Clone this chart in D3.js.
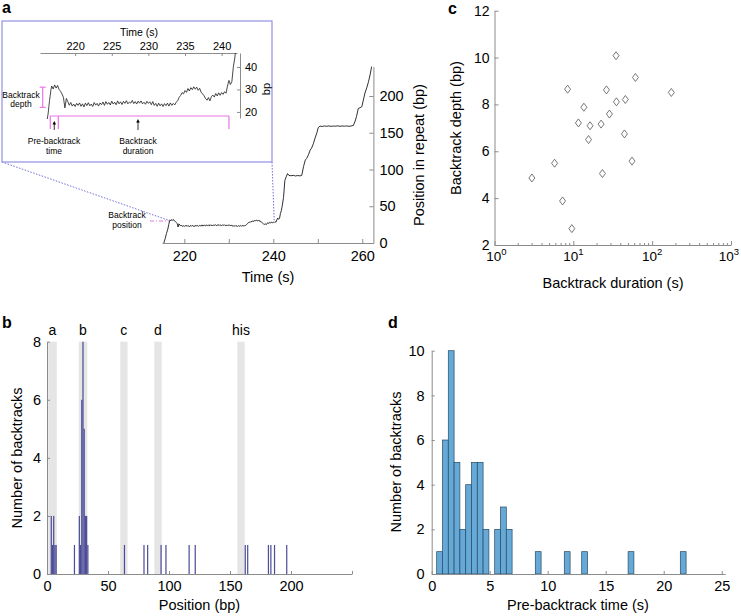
<!DOCTYPE html>
<html><head><meta charset="utf-8">
<script src="https://cdn.jsdelivr.net/npm/d3@7"></script>
<style>body{margin:0;background:#fff}</style>
</head><body>
<svg id="c" width="741" height="616"></svg>
<script>
// ---------------- DATA ----------------
// panel a: trace [time (s), position (bp)]
const trace = [
[215.4,0],[215.7,6],[216.0,13],[216.3,19],[216.5,25],[216.7,30],[216.8,31.5],[217.0,30.2],[217.2,32.0],[217.4,30.6],
[217.6,31.8],[217.8,30.0],[218.0,29.2],[218.2,28.0],[218.4,26.5],[218.6,21.8],[218.8,26.0],[219.0,24.5],[219.2,23.0],[219.4,24.2],
[219.6,22.6],[219.8,23.5],[220.0,22.4],[220.2,23.8],[220.4,22.9],[220.6,24.0],[220.8,22.5],[221.0,23.6],[221.2,22.2],[221.4,23.9],
[221.6,22.8],[221.8,24.1],[222.0,22.7],[222.2,23.5],[222.4,22.4],[222.6,24.2],[222.8,23.0],[223.0,23.8],[223.2,22.6],[223.4,24.0],
[223.6,23.2],[223.8,24.4],[224.0,22.9],[224.2,24.6],[224.4,23.4],[224.6,24.2],[224.8,23.1],[225.0,24.8],[225.2,23.5],[225.4,24.3],
[225.6,23.2],[225.8,24.9],[226.0,23.6],[226.2,24.5],[226.4,23.3],[226.6,24.7],[226.8,23.8],[227.0,25.0],[227.2,23.6],[227.4,24.4],
[227.6,23.9],[227.8,25.1],[228.0,23.7],[228.2,24.6],[228.4,23.5],[228.6,24.8],[228.8,23.9],[229.0,24.9],[229.2,23.6],[229.4,24.3],
[229.6,23.4],[229.8,24.7],[230.0,23.8],[230.2,24.5],[230.4,23.2],[230.6,24.6],[230.8,22.9],[231.0,23.8],[231.2,22.5],[231.4,23.9],
[231.6,22.7],[231.8,23.6],[232.0,22.4],[232.2,23.7],[232.4,22.8],[232.6,23.9],[232.8,22.6],[233.0,24.0],[233.2,22.9],[233.4,23.8],
[233.6,23.1],[233.8,24.3],[234.0,25.0],[234.2,26.5],[234.4,27.3],[234.6,28.6],[234.8,28.0],[235.0,29.5],[235.2,28.7],[235.4,30.4],
[235.6,29.3],[235.8,30.8],[236.0,29.9],[236.2,31.2],[236.4,30.1],[236.6,31.0],[236.8,29.6],[237.0,30.5],[237.2,28.8],[237.4,28.0],
[237.6,27.2],[237.8,26.0],[238.0,25.2],[238.2,26.4],[238.4,24.9],[238.6,26.8],[238.8,27.5],[239.0,26.6],[239.2,28.2],[239.4,27.1],
[239.6,28.5],[239.8,27.4],[240.0,28.6],[240.2,27.8],[240.4,29.0],[240.6,28.3],[240.8,31.5],[241.0,34.0],[241.2,32.2],[241.4,33.5],
[241.6,40.0],[241.8,44.0],[242.0,50.0],[242.3,62.0],[242.6,85.0],[242.9,90.0],[243.2,94.5],[243.5,92.0],[244.0,91.5],[244.5,92.0],
[245.0,91.2],[245.5,91.8],[246.0,91.3],[246.4,92.0],[246.8,104],[247.2,113],[247.5,115],[247.9,120],[248.3,126.5],[248.6,129],
[249.0,135],[249.4,143],[249.8,150],[250.1,157],[250.5,159],[251.0,158.6],[251.5,159.2],[252.0,158.8],[252.5,159.3],[253.0,158.7],
[253.5,159.1],[254.0,158.9],[254.5,159.4],[255.0,158.8],[255.5,159.2],[256.0,158.9],[256.5,159.3],[257.0,158.8],[257.5,159.2],[258.0,160],
[258.4,166],[258.7,172],[259.1,183],[259.5,184],[259.9,185.5],[260.3,196],[260.6,204],[261.0,211],[261.4,219.5],[261.8,230],[262.1,240]
];
const mainTimeTicks = [220, 230, 240, 250, 260];
const mainTimeLabels = [220, 240, 260];
const mainBpTicks = [0, 50, 100, 150, 200];
const insetTimeTicks = [220, 225, 230, 235, 240];
const insetBpTicks = [20, 30, 40];

// panel b
const bandStarts = [1, 26, 60, 88, 156];
const bandEnds = [8, 33, 66, 94, 162];
const bandLabels = ["a", "b", "c", "d", "his"];
const posBins = [3,4,5,6,7,22,26,27,28,29,30,31,32,33,63,79,82,93,97,116,121,162,164,181,183,186,196];
const posCounts = [2,1,2,1,1,1,2,1,6,8,5,2,2,1,1,1,1,1,1,1,1,1,1,1,1,1,1];
const posTicks = [0, 50, 100, 150, 200, 250];
const countTicksB = [0, 2, 4, 6, 8];

// panel c
const durations = [8.45,34.8,61.3,175,26.3,13.6,35.2,45.7,11.6,16.3,22.5,28.7,15.6,44.5,2.98,5.78,55.5,23.4,7.3,9.57];
const depths    = [8.65,10.08,9.15,8.51,8.62,7.88,8.11,8.21,7.21,7.09,7.16,7.59,6.50,6.74,4.86,5.49,5.58,5.05,3.88,2.70];
const depthTicks = [2, 4, 6, 8, 10, 12];
const durationTicks = [1, 10, 100, 1000];
const durationExps = ["0", "1", "2", "3"];

// panel d
const preStarts = [0.43,0.93,1.43,1.93,2.43,2.93,3.43,3.93,4.43,4.93,5.43,5.93,6.43,8.93,11.43,12.93,16.93,21.43];
const preCounts = [1,6,10,5,2,4,5,5,2,0,2,3,2,1,1,1,1,1];
const preBinWidth = 0.5;
const preTicks = [0, 5, 10, 15, 20, 25];
const countTicksD = [0, 2, 4, 6, 8, 10];

// ---------------- DRAW ----------------
const FONT = '"Liberation Sans", Arial, Helvetica, sans-serif';
const AX = '#8c8c8c';
const MAG = '#ea74e6';
const svg = d3.select('#c').attr('font-family', FONT);

function styleAxis(g, fs) {
  g.attr('font-family', FONT).attr('font-size', fs);
  g.selectAll('.domain').attr('stroke', AX);
  g.selectAll('.tick line').attr('stroke', AX);
  g.selectAll('text').attr('fill', '#000');
}
function label(txt, x, y, opts = {}) {
  const t = svg.append('text').attr('x', x).attr('y', y).text(txt)
    .attr('font-size', opts.size || 14).attr('text-anchor', opts.anchor || 'middle')
    .attr('fill', '#000');
  if (opts.bold) t.attr('font-weight', 'bold');
  if (opts.rotate != null) t.attr('transform', `rotate(${opts.rotate},${x},${y})`).attr('dominant-baseline', 'central');
  return t;
}

// ===== Panel a (main) =====
const xa = d3.scaleLinear().domain([215, 262.5]).range([162.05, 373.4]);
const ya = d3.scaleLinear().domain([0, 240]).range([243, 66.6]);

svg.append('g').attr('transform', 'translate(0,243)')
  .call(d3.axisBottom(xa).tickValues(mainTimeTicks).tickFormat(d => mainTimeLabels.includes(d) ? d : '')
    .tickSizeInner(-4).tickSizeOuter(0).tickPadding(8))
  .call(g => styleAxis(g, 14.5));
svg.append('g').attr('transform', 'translate(373.4,0)')
  .call(d3.axisRight(ya).tickValues(mainBpTicks).tickSizeInner(-4).tickSizeOuter(0).tickPadding(6))
  .call(g => styleAxis(g, 14.5));
label('Time (s)', 268, 282, {size: 14.5});
label('Position in repeat (bp)', 419, 155, {size: 14.5, rotate: -90});

const lineA = d3.line().x(d => xa(d[0])).y(d => ya(d[1]));
svg.append('path').datum(trace).attr('d', lineA).attr('fill', 'none')
  .attr('stroke', '#1a1a1a').attr('stroke-width', 0.9);

// backtrack position marker
svg.append('line').attr('x1', 150).attr('x2', xa(216.6)).attr('y1', ya(30)).attr('y2', ya(30))
  .attr('stroke', MAG).attr('stroke-width', 1.1).attr('stroke-dasharray', '4,2,1,2');
label('Backtrack', 127, 218, {size: 8.5});
label('position', 127, 228, {size: 8.5});

// zoom connectors
svg.append('line').attr('x1', 2).attr('y1', 162).attr('x2', xa(216.4)).attr('y2', ya(31))
  .attr('stroke', '#6f6fdc').attr('stroke-width', 1).attr('stroke-dasharray', '1.5,1.5');
svg.append('line').attr('x1', 272).attr('y1', 162).attr('x2', xa(240.2)).attr('y2', ya(31))
  .attr('stroke', '#6f6fdc').attr('stroke-width', 1).attr('stroke-dasharray', '1.5,1.5');

// ===== Panel a inset =====
svg.append('rect').attr('x', 2).attr('y', 21).attr('width', 270).attr('height', 141)
  .attr('fill', '#fff').attr('stroke', '#9090e2').attr('stroke-width', 1.2);
const xi = d3.scaleLinear().domain([215.2, 242.1]).range([40, 237]);
const yi = d3.scaleLinear().domain([17.3, 46.2]).range([118, 53]);
svg.append('g').attr('transform', 'translate(0,53)')
  .call(d3.axisTop(xi).tickValues(insetTimeTicks).tickSizeInner(-3).tickSizeOuter(0).tickPadding(3))
  .call(g => styleAxis(g, 11));
svg.append('g').attr('transform', 'translate(240,0)')
  .call(d3.axisRight(yi).tickValues(insetBpTicks).tickSizeInner(-3).tickSizeOuter(0).tickPadding(5))
  .call(g => styleAxis(g, 11));
label('Time (s)', 139, 36, {size: 10.5});
label('bp', 266, 89, {size: 11, rotate: -90});

svg.append('clipPath').attr('id', 'clipI').append('rect')
  .attr('x', 40).attr('y', 53).attr('width', 198).attr('height', 66);
const lineI = d3.line().x(d => xi(d[0])).y(d => yi(d[1]));
svg.append('path').datum(trace.filter(d => d[0] <= 242.6)).attr('d', lineI)
  .attr('clip-path', 'url(#clipI)').attr('fill', 'none')
  .attr('stroke', '#1a1a1a').attr('stroke-width', 0.8);

// depth bracket
const bx = 42.7;
svg.append('line').attr('x1', bx).attr('x2', bx).attr('y1', yi(31)).attr('y2', yi(22)).attr('stroke', MAG).attr('stroke-width', 1.2);
svg.append('line').attr('x1', bx - 3).attr('x2', bx + 3).attr('y1', yi(31)).attr('y2', yi(31)).attr('stroke', MAG).attr('stroke-width', 1.2);
svg.append('line').attr('x1', bx - 3).attr('x2', bx + 3).attr('y1', yi(22)).attr('y2', yi(22)).attr('stroke', MAG).attr('stroke-width', 1.2);
label('Backtrack', 21, 97.5, {size: 8.5});
label('depth', 21, 107, {size: 8.5});

// time brackets
const bY = 116, bY2 = 129;
const xs0 = xi(216.6), xs1 = xi(217.7), xs2 = xi(241.9 - 0.9);
svg.append('line').attr('x1', xs0).attr('x2', xs2).attr('y1', bY).attr('y2', bY).attr('stroke', MAG).attr('stroke-width', 1.2);
[xs0, xs1, xs2].forEach(x => svg.append('line').attr('x1', x).attr('x2', x).attr('y1', bY).attr('y2', bY2).attr('stroke', MAG).attr('stroke-width', 1.2));
function arrowUp(x, y0, y1) {
  svg.append('line').attr('x1', x).attr('x2', x).attr('y1', y0).attr('y2', y1 + 2).attr('stroke', '#000').attr('stroke-width', 0.8);
  svg.append('path').attr('d', `M${x - 1.8},${y1 + 3.5}L${x},${y1}L${x + 1.8},${y1 + 3.5}Z`).attr('fill', '#000');
}
arrowUp((xs0 + xs1) / 2, 130, 121);
arrowUp(138, 130, 119);
label('Pre-backtrack', 54, 144, {size: 8.5});
label('time', 54, 153.5, {size: 8.5});
label('Backtrack', 138, 144, {size: 8.5});
label('duration', 138, 153.5, {size: 8.5});

label('a', 2, 13, {size: 16, bold: true, anchor: 'start'});

// ===== Panel b =====
const xb = d3.scaleLinear().domain([0, 250]).range([47, 352]);
const yb = d3.scaleLinear().domain([0, 8]).range([574, 341.7]);
bandStarts.forEach((s, i) => {
  svg.append('rect').attr('x', xb(s)).attr('width', xb(bandEnds[i]) - xb(s))
    .attr('y', yb(8)).attr('height', yb(0) - yb(8)).attr('fill', '#e5e5e5');
  label(bandLabels[i], xb((s + bandEnds[i]) / 2), 335, {size: 14});
});
svg.append('g').selectAll('rect').data(posBins).join('rect')
  .attr('x', d => xb(d)).attr('width', d => xb(d + 1) - xb(d))
  .attr('y', (d, i) => yb(posCounts[i])).attr('height', (d, i) => yb(0) - yb(posCounts[i]))
  .attr('fill', '#3b3b8e').attr('fill-opacity', 0.9);
svg.append('g').attr('transform', 'translate(0,574)')
  .call(d3.axisBottom(xb).tickValues(posTicks).tickFormat(d => d === 250 ? '' : d)
    .tickSizeInner(-3).tickSizeOuter(0).tickPadding(7))
  .call(g => styleAxis(g, 14.5));
svg.append('g').attr('transform', 'translate(47,0)')
  .call(d3.axisLeft(yb).tickValues(countTicksB).tickSizeInner(-3).tickSizeOuter(0).tickPadding(6))
  .call(g => styleAxis(g, 14.5));
label('Position (bp)', 199.5, 610, {size: 14.5});
label('Number of backtracks', 17, 458, {size: 14.5, rotate: -90});
label('b', 2, 328, {size: 16, bold: true, anchor: 'start'});

// ===== Panel c =====
const xc = d3.scaleLog().domain([1, 1000]).range([494.5, 731]);
const yc = d3.scaleLinear().domain([2, 12]).range([245, 10.7]);
svg.append('g').attr('transform', 'translate(0,245)')
  .call(d3.axisBottom(xc).tickValues(durationTicks).tickFormat('').tickSizeInner(-4).tickSizeOuter(0))
  .call(g => styleAxis(g, 14));
const minor = [];
[1, 10, 100].forEach(dec => [2,3,4,5,6,7,8,9].forEach(m => minor.push(dec * m)));
svg.append('g').selectAll('line').data(minor).join('line')
  .attr('x1', d => xc(d)).attr('x2', d => xc(d)).attr('y1', 245).attr('y2', 243)
  .attr('stroke', AX);
svg.append('g').attr('transform', 'translate(494.5,0)')
  .call(d3.axisLeft(yc).tickValues(depthTicks).tickSizeInner(-4).tickSizeOuter(0).tickPadding(5))
  .call(g => styleAxis(g, 14));
durationTicks.forEach((v, i) => {
  const t = svg.append('text').attr('x', i === 3 ? xc(v) - 2 : (i === 0 ? xc(v) + 2 : xc(v))).attr('y', 261).attr('text-anchor', 'middle')
    .attr('font-size', 13.5).attr('fill', '#000');
  t.append('tspan').text('10');
  t.append('tspan').text(durationExps[i]).attr('font-size', 9.5).attr('dy', -6);
});
svg.append('g').selectAll('path').data(durations).join('path')
  .attr('d', (d, i) => {
    const x = xc(d), y = yc(depths[i]);
    return `M${x},${y - 4}L${x + 3},${y}L${x},${y + 4}L${x - 3},${y}Z`;
  })
  .attr('fill', '#fff').attr('stroke', '#555').attr('stroke-width', 0.8);
label('Backtrack duration (s)', 613, 288, {size: 14.5});
label('Backtrack depth (bp)', 456, 128, {size: 14.5, rotate: -90});
label('c', 448, 14, {size: 16, bold: true, anchor: 'start'});

// ===== Panel d =====
const xd = d3.scaleLinear().domain([0, 25.3]).range([431.7, 725.2]);
const yd = d3.scaleLinear().domain([0, 10]).range([574, 350.7]);
svg.append('g').selectAll('rect').data(preStarts).join('rect')
  .attr('x', d => xd(d)).attr('width', d => xd(d + preBinWidth) - xd(d))
  .attr('y', (d, i) => yd(preCounts[i])).attr('height', (d, i) => yd(0) - yd(preCounts[i]))
  .attr('fill', '#66a9d7').attr('stroke', '#234a66').attr('stroke-width', 0.7);
svg.append('g').attr('transform', 'translate(0,574)')
  .call(d3.axisBottom(xd).tickValues(preTicks).tickSizeInner(-3).tickSizeOuter(0).tickPadding(7))
  .call(g => styleAxis(g, 14.5));
svg.append('g').attr('transform', 'translate(431.7,0)')
  .call(d3.axisLeft(yd).tickValues(countTicksD).tickSizeInner(-3).tickSizeOuter(0).tickPadding(7))
  .call(g => styleAxis(g, 14.5));
label('Pre-backtrack time (s)', 578, 610, {size: 14.5});
label('Number of backtracks', 396, 462, {size: 14.5, rotate: -90});
label('d', 388, 328, {size: 16, bold: true, anchor: 'start'});
</script>
</body></html>
